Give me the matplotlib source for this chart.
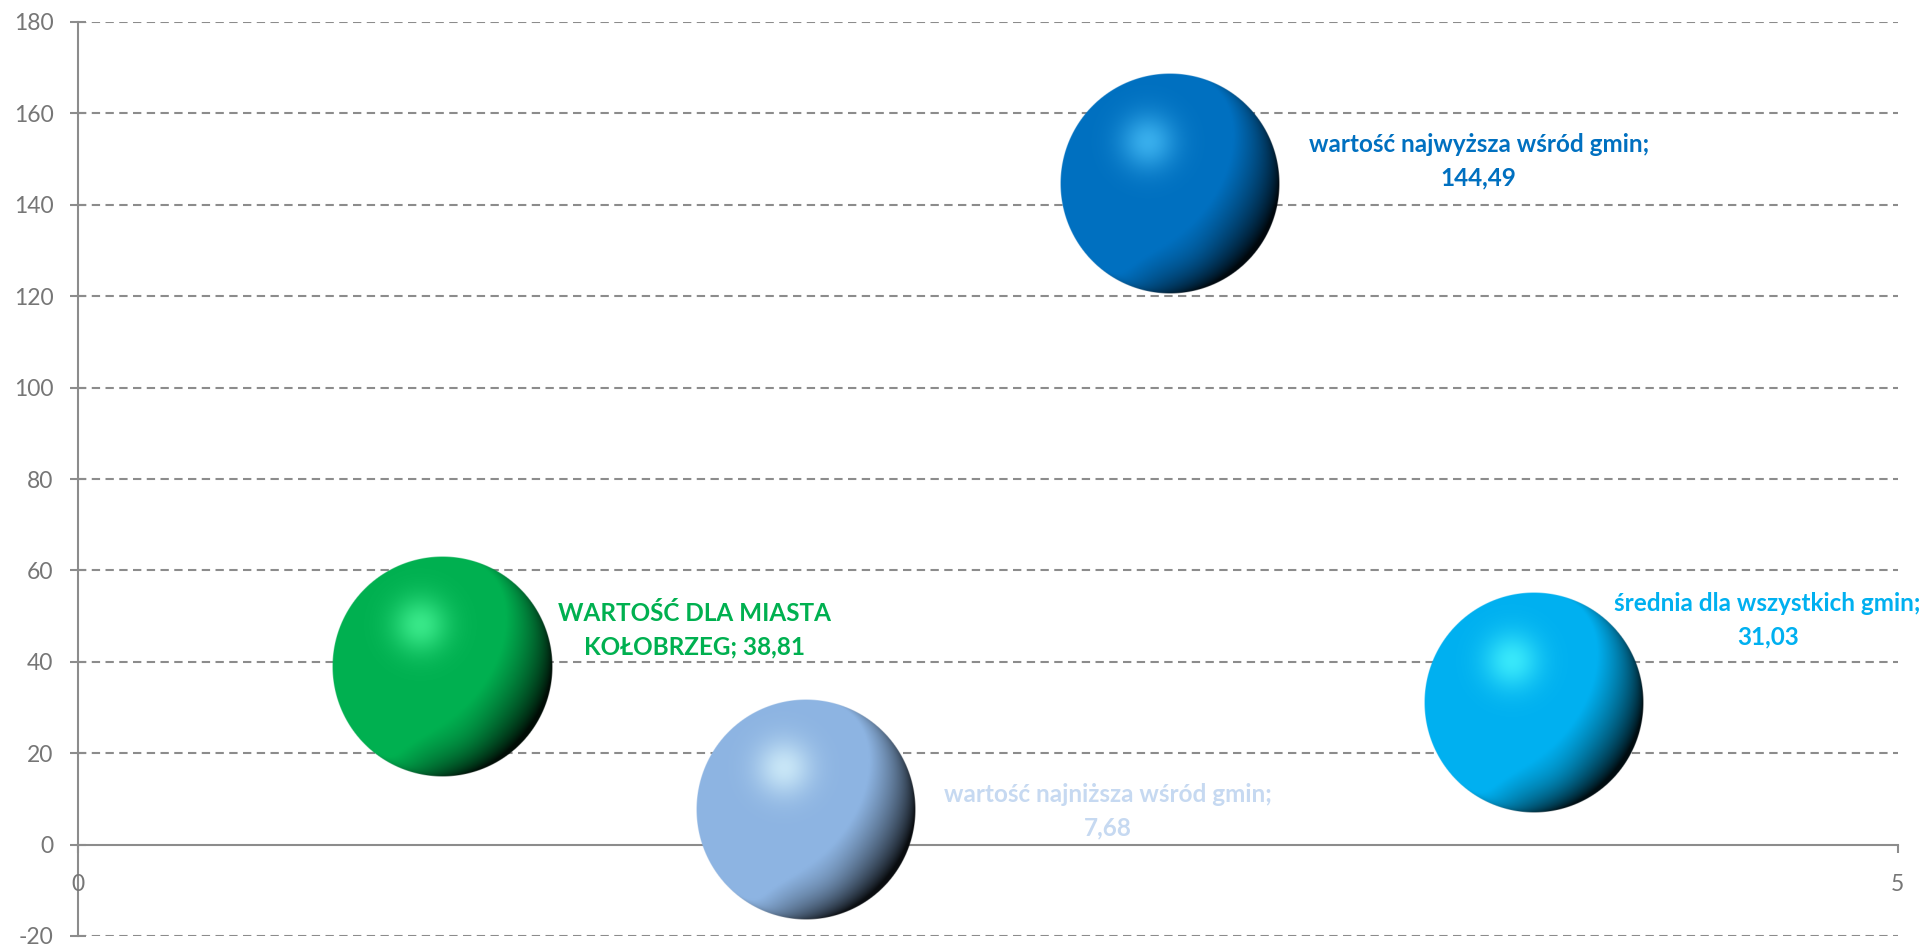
import numpy as np
import matplotlib
matplotlib.use("Agg")
import matplotlib.pyplot as plt

plt.rcParams['font.family'] = ['Lato', 'DejaVu Sans']

# data
x_vals = [1, 2, 3, 4]
y_vals = [38.81, 7.68, 144.49, 31.03]
sizes = [1, 1, 1, 1]
names = ["WARTOŚĆ DLA MIASTA\nKOŁOBRZEG; ",
         "wartość najniższa wśród gmin;\n",
         "wartość najwyższa wśród gmin;\n",
         "średnia dla wszystkich gmin;\n"]
y_ticks = list(range(-20, 181, 20))
x_ticks = [0, 5]

# styles
base_cols = ["#00B050", "#8DB4E2", "#0070C0", "#00B0F0"]
hl_cols = ["#50FFA0", "#E0FAFF", "#50C8FF", "#50FFFF"]
label_cols = ["#00B050", "#C6D9F1", "#0070C0", "#00B0F0"]
label_offsets = [(253, 37), (302, -2), (309, 23), (234, 83)]  # pixels
R_PX = 110
GRID = "#8C8C8C"
TXT = "#767676"


def hex2rgb(h):
    h = h.lstrip('#')
    return np.array([int(h[i:i + 2], 16) / 255 for i in (0, 2, 4)])


def sphere_rgba(base, hl, n=360):
    base = hex2rgb(base)
    hl = hex2rgb(hl)
    t = np.linspace(-1, 1, n)
    u, v = np.meshgrid(t, t)  # v goes down
    r = np.sqrt(u ** 2 + v ** 2)
    z = np.sqrt(np.clip(1 - r ** 2, 0, 1))
    L = np.array([-0.55, -0.45, 0.7])
    L = L / np.linalg.norm(L)
    d = u * L[0] + v * L[1] + z * L[2]
    f = np.clip(0.6 + 1.1 * d, 0.07, 1.0)
    # rim light from below-left
    L2 = np.array([-0.5, 0.85, 0.15])
    L2 = L2 / np.linalg.norm(L2)
    d2 = np.clip(u * L2[0] + v * L2[1] + z * L2[2], 0, 1)
    f = np.minimum(f + 0.3 * d2 ** 8, 1.0)
    rgb = base[None, None, :] * f[..., None]
    # secondary soft reflection
    s2 = np.exp(-((u - 0.1) ** 2 + (v - 0.55) ** 2) / (2 * 0.2 ** 2)) * 0.25
    rgb = rgb + s2[..., None] * (base - rgb)
    # specular highlight
    s = np.exp(-((u + 0.2) ** 2 + (v + 0.38) ** 2) / (2 * 0.18 ** 2)) * 0.7
    rgb = rgb + s[..., None] * (hl - rgb)
    rgb = np.clip(rgb, 0, 1)
    alpha = np.clip((1 - r) * n / 2, 0, 1)
    return np.dstack([rgb, alpha])


fig = plt.figure(figsize=(19.33, 9.48), dpi=100)
ax = fig.add_axes([77.7 / 1933, 12 / 948, 1820 / 1933, 914 / 948])
ax.set_xlim(0, 5)
ax.set_ylim(-20, 180)

ax.spines['top'].set_visible(False)
ax.spines['right'].set_visible(False)
ax.spines['bottom'].set_position(('data', 0))
for s in ('left', 'bottom'):
    ax.spines[s].set_color(GRID)
    ax.spines[s].set_linewidth(1.5)
    ax.spines[s].set_zorder(1)

ax.set_yticks(y_ticks)
ax.set_xticks(x_ticks)
for yt in y_ticks:
    if yt != 0:
        ax.axhline(yt, color=GRID, lw=1.5, dashes=(4, 2.6), zorder=0)
ax.tick_params(axis='y', direction='inout', length=11, width=1.5, color=GRID,
               labelcolor=TXT, labelsize=16.5, pad=12)
ax.tick_params(axis='x', direction='out', length=6, width=1.5, color=GRID,
               labelcolor=TXT, labelsize=16.5, pad=15)
ax.set_yticklabels([str(t) for t in y_ticks])
ax.set_xticklabels([str(t) for t in x_ticks])

# bubble radius in data units
p0 = ax.transData.transform((0, 0))
p1 = ax.transData.transform((1, 1))
px_x = p1[0] - p0[0]
px_y = p1[1] - p0[1]
smax = max(sizes)

for xv, yv, sz, bc, hc in zip(x_vals, y_vals, sizes, base_cols, hl_cols):
    rp = R_PX * np.sqrt(sz / smax)
    rx, ry = rp / px_x, rp / px_y
    ax.imshow(sphere_rgba(bc, hc), extent=(xv - rx, xv + rx, yv - ry, yv + ry),
              origin='upper', aspect='auto', zorder=3, interpolation='antialiased')

ax.set_xlim(0, 5)
ax.set_ylim(-20, 180)

for xv, yv, nm, lc, off in zip(x_vals, y_vals, names, label_cols, label_offsets):
    txt = nm + f"{yv:.2f}".replace('.', ',')
    ax.annotate(txt, (xv, yv), xytext=off, textcoords='offset pixels',
                ha='center', va='center', multialignment='center',
                color=lc, fontsize=17.5, fontweight='bold', linespacing=1.55,
                zorder=4)

fig.savefig("out.png", dpi=100)
